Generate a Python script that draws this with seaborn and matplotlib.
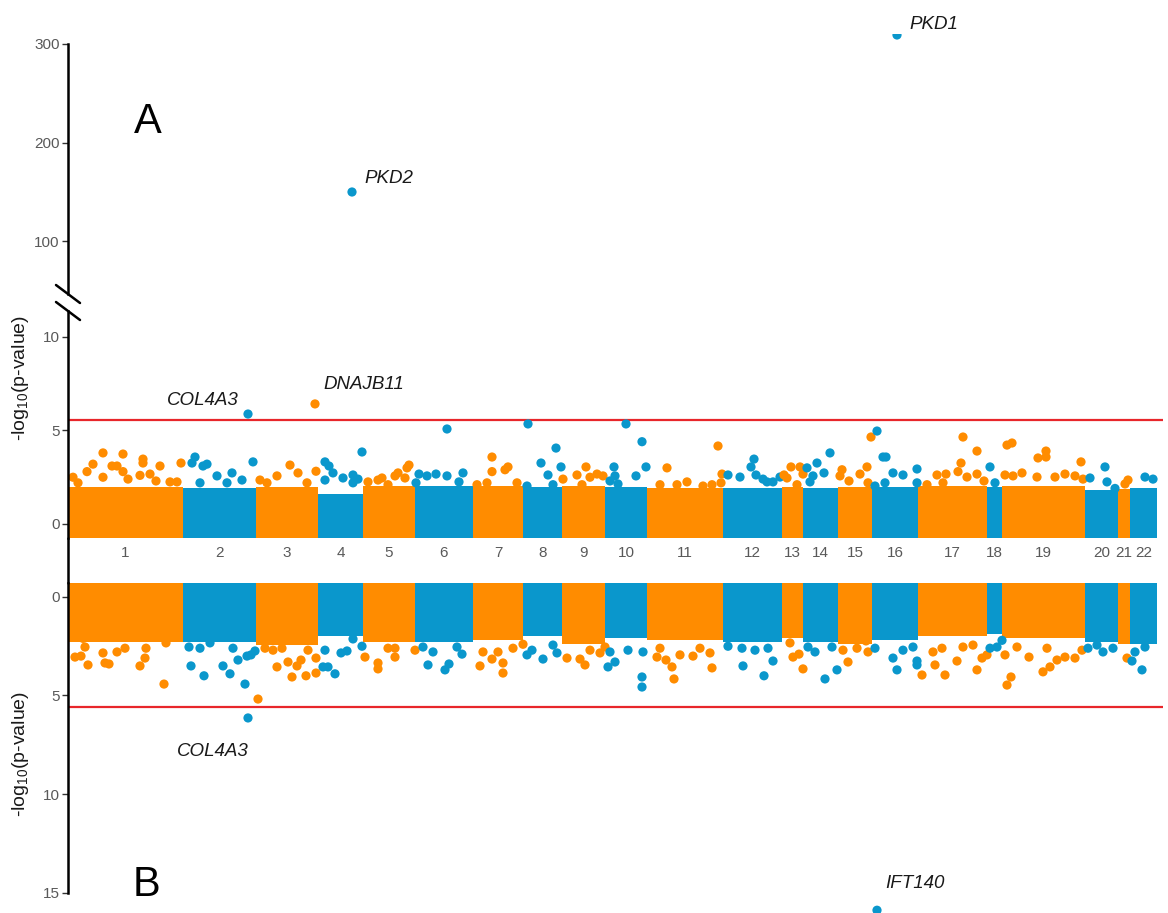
import matplotlib
matplotlib.use("Agg")
import matplotlib.pyplot as plt
from matplotlib.lines import Line2D
import numpy as np
import pandas as pd
import seaborn as sns


sns.set_theme(style="ticks")
plt.rcParams["font.family"] = ["Liberation Sans", "DejaVu Sans"]
plt.rcParams["mathtext.default"] = "regular"

# chromosome widths on the gene axis (relative units)
chromosomes = list(range(1, 23))
chrom_width = [115, 73, 62, 45, 52, 58, 50, 39, 43, 42, 76, 59, 21, 35, 34, 46, 69, 15, 83, 33, 12, 27]

# upper edge of the dense mass of points for each chromosome
bulk_a = [2.0, 1.9, 2.0, 1.6, 2.05, 2.05, 2.05, 2.0, 2.05, 2.0, 1.95, 1.95, 2.0, 1.95, 2.0, 2.0, 2.05, 2.0, 2.05, 1.8, 1.85, 1.95]
bulk_b = [2.3, 2.3, 2.45, 2.0, 2.3, 2.3, 2.2, 2.0, 2.4, 2.1, 2.2, 2.3, 2.1, 2.3, 2.4, 2.2, 2.0, 1.9, 2.1, 2.3, 2.4, 2.4]

# (chromosome, position within chromosome, -log10 p) for points above the mass
hits_a = [
    (1, 35, 3.80), (1, 55, 3.74), (1, 75, 3.47), (1, 75, 3.26), (1, 25, 3.20), (1, 44, 3.10), (1, 49, 3.10),
    (1, 92, 3.10), (1, 113, 3.26), (1, 19, 2.80), (1, 55, 2.80), (1, 72, 2.60), (1, 82, 2.67), (1, 35, 2.50),
    (1, 5, 2.50), (1, 10, 2.20), (1, 102, 2.25), (1, 109, 2.25), (1, 60, 2.40), (1, 88, 2.30),
    (2, 12, 3.58), (2, 9, 3.26), (2, 24, 3.20), (2, 20, 3.10), (2, 70, 3.32), (2, 49, 2.73), (2, 34, 2.57),
    (2, 59, 2.35), (2, 44, 2.20), (2, 17, 2.20),
    (3, 34, 3.15), (3, 60, 2.82), (3, 42, 2.73), (3, 21, 2.57), (3, 4, 2.35), (3, 51, 2.20), (3, 11, 2.20),
    (4, 7, 3.32), (4, 11, 3.10), (4, 44, 3.85), (4, 7, 2.35), (4, 15, 2.73), (4, 25, 2.46), (4, 35, 2.62),
    (4, 35, 2.20), (4, 40, 2.40),
    (5, 46, 3.15), (5, 44, 3.00), (5, 32, 2.57), (5, 35, 2.73), (5, 19, 2.46), (5, 42, 2.46), (5, 25, 2.10),
    (5, 15, 2.35), (5, 5, 2.25),
    (6, 32, 5.08), (6, 4, 2.67), (6, 12, 2.57), (6, 21, 2.67), (6, 32, 2.57), (6, 48, 2.73), (6, 44, 2.25),
    (6, 1, 2.20),
    (7, 19, 3.58), (7, 19, 2.80), (7, 35, 3.05), (7, 32, 2.90), (7, 44, 2.20), (7, 14, 2.20), (7, 4, 2.10),
    (8, 5, 5.35), (8, 33, 4.06), (8, 18, 3.26), (8, 38, 3.05), (8, 25, 2.62), (8, 30, 2.10), (8, 4, 2.03),
    (9, 24, 3.05), (9, 15, 2.62), (9, 28, 2.50), (9, 35, 2.67), (9, 41, 2.57), (9, 1, 2.40), (9, 20, 2.10),
    (10, 21, 5.35), (10, 37, 4.40), (10, 41, 3.05), (10, 9, 3.05), (10, 31, 2.57), (10, 10, 2.57),
    (10, 5, 2.30), (10, 13, 2.14),
    (11, 71, 4.17), (11, 20, 3.00), (11, 40, 2.25), (11, 75, 2.67), (11, 74, 2.20), (11, 13, 2.10),
    (11, 56, 2.03), (11, 30, 2.10), (11, 65, 2.10),
    (12, 31, 3.47), (12, 28, 3.05), (12, 33, 2.62), (12, 5, 2.62), (12, 17, 2.51), (12, 44, 2.25),
    (12, 57, 2.51), (12, 50, 2.25), (12, 40, 2.40),
    (13, 9, 3.05), (13, 18, 3.05), (13, 2, 2.62), (13, 21, 2.67), (13, 5, 2.46), (13, 15, 2.10),
    (14, 27, 3.80), (14, 14, 3.26), (14, 4, 3.00), (14, 21, 2.73), (14, 10, 2.57), (14, 7, 2.25),
    (15, 33, 4.65), (15, 4, 2.90), (15, 2, 2.57), (15, 22, 2.67), (15, 29, 3.05), (15, 30, 2.20), (15, 11, 2.30),
    (16, 5, 4.97), (16, 11, 3.58), (16, 14, 3.58), (16, 45, 2.94), (16, 21, 2.73), (16, 31, 2.62),
    (16, 3, 2.03), (16, 45, 2.20), (16, 13, 2.20),
    (17, 45, 4.65), (17, 59, 3.90), (17, 43, 3.26), (17, 19, 2.62), (17, 28, 2.67), (17, 40, 2.80),
    (17, 49, 2.51), (17, 59, 2.67), (17, 25, 2.20), (17, 9, 2.10), (17, 66, 2.30),
    (18, 3, 3.05), (18, 8, 2.20),
    (19, 5, 4.22), (19, 10, 4.33), (19, 44, 3.90), (19, 36, 3.53), (19, 44, 3.58), (19, 79, 3.32),
    (19, 20, 2.73), (19, 3, 2.62), (19, 11, 2.57), (19, 53, 2.51), (19, 63, 2.67), (19, 73, 2.57),
    (19, 35, 2.51), (19, 81, 2.40),
    (20, 20, 3.05), (20, 5, 2.46), (20, 22, 2.25), (20, 30, 1.90),
    (21, 10, 2.35), (21, 7, 2.14),
    (22, 15, 2.51), (22, 23, 2.40),
]

hits_b = [
    (1, 13, 3.00), (1, 7, 3.05), (1, 20, 3.45), (1, 17, 2.54), (1, 35, 2.84), (1, 37, 3.35), (1, 41, 3.40),
    (1, 49, 2.79), (1, 57, 2.60), (1, 72, 3.50), (1, 77, 3.10), (1, 78, 2.60), (1, 96, 4.42), (1, 98, 2.33),
    (1, 15, 2.10),
    (2, 6, 2.54), (2, 17, 2.60), (2, 8, 3.50), (2, 21, 4.00), (2, 40, 3.50), (2, 47, 3.90), (2, 55, 3.20),
    (2, 62, 4.42), (2, 64, 3.00), (2, 68, 2.94), (2, 72, 2.74), (2, 50, 2.60), (2, 27, 2.33),
    (3, 2, 5.18), (3, 9, 2.60), (3, 17, 2.70), (3, 21, 3.55), (3, 32, 3.30), (3, 36, 4.06), (3, 41, 3.50),
    (3, 45, 3.20), (3, 50, 4.00), (3, 52, 2.70), (3, 60, 3.10), (3, 60, 3.86), (3, 26, 2.60),
    (4, 5, 3.55), (4, 10, 3.55), (4, 17, 3.90), (4, 7, 2.70), (4, 23, 2.84), (4, 29, 2.74), (4, 35, 2.13),
    (4, 44, 2.50),
    (5, 2, 3.05), (5, 15, 3.35), (5, 15, 3.65), (5, 25, 2.60), (5, 32, 3.05), (5, 32, 2.60), (5, 52, 2.70),
    (6, 8, 2.54), (6, 13, 3.45), (6, 18, 2.79), (6, 30, 3.70), (6, 34, 3.40), (6, 47, 2.90), (6, 42, 2.54),
    (7, 7, 3.50), (7, 10, 2.79), (7, 19, 3.15), (7, 25, 2.79), (7, 30, 3.35), (7, 30, 3.86), (7, 40, 2.60),
    (7, 50, 2.40),
    (8, 4, 2.94), (8, 9, 2.70), (8, 20, 3.15), (8, 34, 2.84), (8, 30, 2.44),
    (9, 5, 3.10), (9, 18, 3.15), (9, 23, 3.45), (9, 28, 2.70), (9, 38, 2.84), (9, 43, 2.54),
    (10, 3, 3.55), (10, 10, 3.30), (10, 5, 2.79), (10, 23, 2.70), (10, 37, 4.06), (10, 37, 4.57), (10, 38, 2.79),
    (11, 10, 3.05), (11, 19, 3.20), (11, 25, 3.55), (11, 27, 4.16), (11, 33, 2.94), (11, 46, 3.00),
    (11, 65, 3.60), (11, 63, 2.84), (11, 53, 2.60), (11, 13, 2.60),
    (12, 5, 2.50), (12, 19, 2.60), (12, 20, 3.50), (12, 32, 2.70), (12, 41, 4.00), (12, 45, 2.60), (12, 50, 3.25),
    (13, 11, 3.05), (13, 17, 2.90), (13, 21, 3.65), (13, 8, 2.33),
    (14, 22, 4.16), (14, 34, 3.70), (14, 29, 2.54), (14, 12, 2.79), (14, 5, 2.54),
    (15, 10, 3.30), (15, 5, 2.70), (15, 19, 2.60), (15, 30, 2.79), (15, 28, 2.23),
    (16, 3, 2.60), (16, 21, 3.10), (16, 25, 3.70), (16, 31, 2.70), (16, 41, 2.54), (16, 45, 3.25), (16, 45, 3.45),
    (17, 4, 3.96), (17, 17, 3.45), (17, 27, 3.96), (17, 39, 3.25), (17, 15, 2.79), (17, 24, 2.60),
    (17, 45, 2.54), (17, 59, 3.70), (17, 64, 3.10), (17, 69, 2.94), (17, 55, 2.44),
    (18, 3, 2.60), (18, 10, 2.54), (18, 15, 2.20),
    (19, 5, 4.47), (19, 9, 4.06), (19, 3, 2.94), (19, 15, 2.54), (19, 27, 3.05), (19, 41, 3.80), (19, 48, 3.55),
    (19, 55, 3.20), (19, 63, 3.05), (19, 73, 3.10), (19, 45, 2.60), (19, 80, 2.70),
    (20, 3, 2.60), (20, 18, 2.79), (20, 28, 2.60), (20, 12, 2.44),
    (21, 9, 3.10),
    (22, 12, 3.70), (22, 2, 3.25), (22, 15, 2.54), (22, 5, 2.79),
]

genes_a = [("PKD1", 16, 25, 309.0), ("PKD2", 4, 34, 150.0), ("COL4A3", 2, 65, 5.88), ("DNAJB11", 3, 59, 6.42)]
genes_b = [("COL4A3", 2, 65, 6.14), ("IFT140", 16, 5, 15.9)]

threshold = 5.56

ORANGE = "#FF8C00"
BLUE = "#0A97CC"
RED = "#E8262B"
palette = {"odd": ORANGE, "even": BLUE}

offsets = np.concatenate([[0], np.cumsum(chrom_width)[:-1]])
mids = offsets + np.array(chrom_width) / 2


def to_frame(rows, genes):
    df = pd.DataFrame(rows + [g[1:] for g in genes], columns=["chrom", "pos", "logp"])
    df["x"] = offsets[df["chrom"] - 1] + df["pos"]
    df["parity"] = np.where(df["chrom"] % 2 == 1, "odd", "even")
    return df


df_a = to_frame(hits_a, genes_a)
df_b = to_frame(hits_b, genes_b)

W, H = 1168, 913
fig = plt.figure(figsize=(W / 100, H / 100), dpi=100)


def place(left, top, right, bottom):
    return fig.add_axes([left / W, 1 - bottom / H, (right - left) / W, (bottom - top) / H])


ax_hi = place(68, 34, 1163, 294)
ax_lo = place(68, 311, 1163, 538)
ax_bot = place(68, 583, 1163, 913)


def draw_panel(ax, df, bulk):
    colors = [ORANGE if c % 2 else BLUE for c in chromosomes]
    ax.bar(mids, np.array(bulk) + 2, width=chrom_width, bottom=-2, color=colors, linewidth=0, zorder=1)
    ax.axhline(threshold, color=RED, lw=1.6, zorder=1.5)
    sns.scatterplot(data=df, x="x", y="logp", hue="parity", palette=palette, s=44,
                    linewidth=0, legend=False, ax=ax, zorder=2)
    ax.set_xlim(0, 1095)
    ax.set(xlabel="", ylabel="")
    for side in ("top", "right", "bottom"):
        ax.spines[side].set_visible(False)
    ax.spines["left"].set_linewidth(1.8)
    ax.spines["left"].set_color("black")
    ax.tick_params(axis="y", length=4, width=1, color="#333333", labelcolor="#595959", labelsize=11, pad=2)


draw_panel(ax_hi, df_a, bulk_a)
draw_panel(ax_lo, df_a, bulk_a)
draw_panel(ax_bot, df_b, bulk_b)

ax_hi.set_ylim(46.7, 310)
ax_hi.set_yticks([100, 200, 300])
ax_hi.spines["left"].set_bounds(46.7, 300)
ax_hi.set_xticks([])

ax_lo.set_ylim(-0.75, 11.39)
ax_lo.set_yticks([0, 5, 10])
ax_lo.set_xticks(mids)
ax_lo.set_xticklabels(chromosomes)
ax_lo.tick_params(axis="x", length=0, pad=6, labelsize=11, labelcolor="#595959")

ax_bot.set_ylim(16.04, -0.71)
ax_bot.set_yticks([0, 5, 10, 15])
ax_bot.spines["left"].set_bounds(-0.71, 15)
ax_bot.set_xticks([])

# gene labels
label_style = {
    "PKD1": ((9, 7.5), "left"),
    "PKD2": ((9, 9.5), "left"),
    "COL4A3": ((-7, 10), "right"),
    "DNAJB11": ((6, 14), "left"),
    "IFT140": ((6, 19), "left"),
}
for name, chrom, pos, logp in genes_a:
    ax = ax_hi if logp > 40 else ax_lo
    xy_off, ha = label_style[name]
    ax.annotate(name, xy=(offsets[chrom - 1] + pos, logp), xytext=xy_off, textcoords="offset points",
                ha=ha, va="center", fontstyle="italic", fontsize=13.5, color="#1a1a1a")
for name, chrom, pos, logp in genes_b:
    xy_off, ha = ((-25, -24), "center") if name == "COL4A3" else label_style[name]
    ax_bot.annotate(name, xy=(offsets[chrom - 1] + pos, logp), xytext=xy_off, textcoords="offset points",
                    ha=ha, va="center", fontstyle="italic", fontsize=13.5, color="#1a1a1a")

# axis break marks and the spine through the label gap
x_ax = 68
for y_px in (294, 311):
    fig.add_artist(Line2D([(x_ax - 12) / W, (x_ax + 12) / W], [1 - (y_px - 9) / H, 1 - (y_px + 9) / H],
                          color="black", lw=1.8))
fig.add_artist(Line2D([x_ax / W, x_ax / W], [1 - 538 / H, 1 - 583 / H], color="black", lw=1.8))

fig.text(21 / W, 1 - 378 / H, "-log$_{10}$(p-value)", rotation=90, ha="center", va="center",
         fontsize=14, color="#1a1a1a")
fig.text(21 / W, 1 - 754 / H, "-log$_{10}$(p-value)", rotation=90, ha="center", va="center",
         fontsize=14, color="#1a1a1a")
fig.text(148 / W, 1 - 122 / H, "A", ha="center", va="center", fontsize=30, color="black")
fig.text(147 / W, 1 - 885 / H, "B", ha="center", va="center", fontsize=30, color="black")

fig.savefig("out.png", dpi=100)
